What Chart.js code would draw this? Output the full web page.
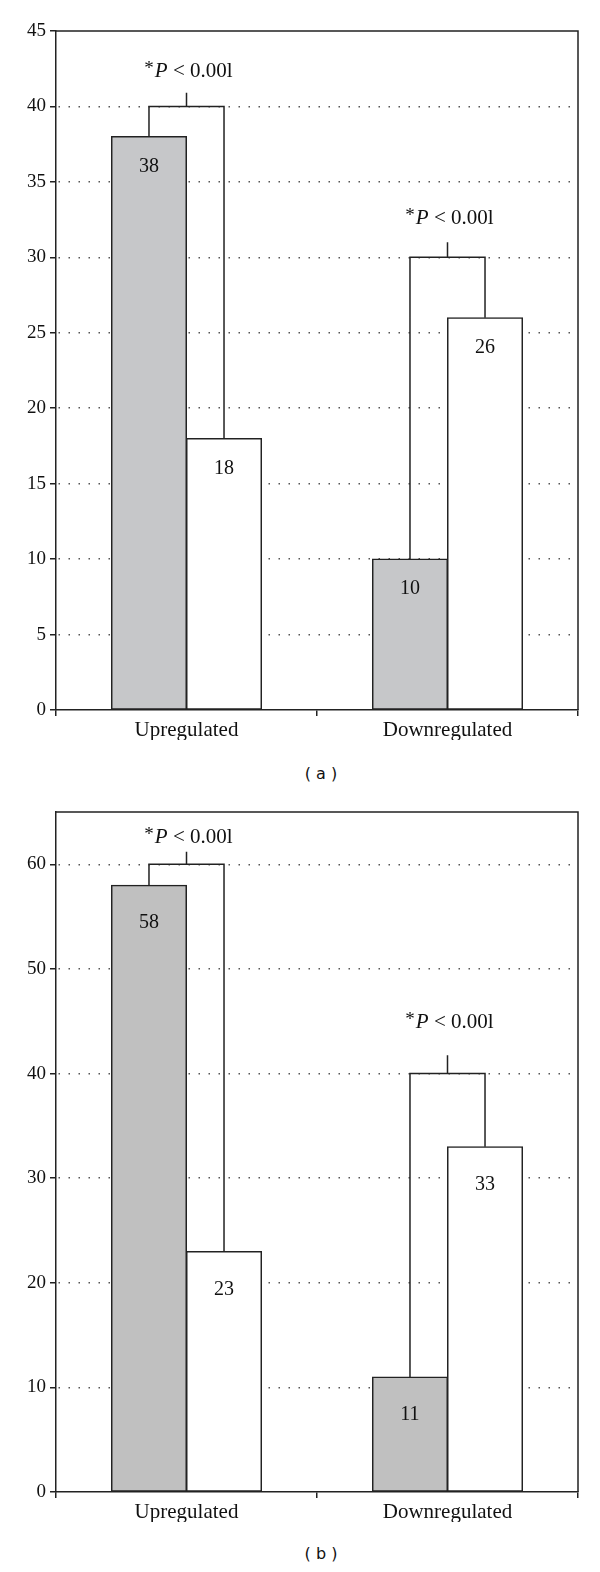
<!DOCTYPE html>
<html><head><meta charset="utf-8">
<script src="https://cdn.jsdelivr.net/npm/chart.js@4/dist/chart.umd.min.js"></script>
<style>
html,body{margin:0;padding:0;background:#fff;width:600px;height:1572px;overflow:hidden;position:relative;}
.wrap{position:absolute;left:0;width:600px;}
.cap{position:absolute;left:0;width:642px;text-align:center;font-family:"DejaVu Sans",sans-serif;font-size:16px;color:#111;line-height:20px;}
</style></head><body>
<div class="wrap" style="top:0;height:745px"><canvas id="ca"></canvas></div>
<div class="cap" style="top:764px">( a )</div>
<div class="wrap" style="top:770px;height:760px"><canvas id="cb"></canvas></div>
<div class="cap" style="top:1544px">( b )</div>
<script>
// ---- data ----
const categories = ['Upregulated', 'Downregulated'];
const grayA = [38, 10];
const whiteA = [18, 26];
const grayB = [58, 11];
const whiteB = [23, 33];
const yMaxA = 45, yStepA = 5;
const yMaxB = 65, yStepB = 10;
// significance brackets (value units)
const bracketA = [40, 30];
const bracketTickA = [40.9, 31.0];
const pLabelA = [41.95, 32.2];
const bracketB = [60, 40];
const bracketTickB = [61.2, 41.75];
const pLabelB = [62.0, 44.4];
const pStar = '*', pItalic = 'P', pRest = ' < 0.00l';

const SERIF = '"Liberation Serif", "DejaVu Serif", serif';
const INK = '#222';

function annotPlugin(bracket, tickTop, pLevel, labelDepth) {
  return {
    id: 'annot',
    afterDatasetsDraw(chart) {
      const ctx = chart.ctx, ca = chart.chartArea, y = chart.scales.y;
      const m0 = chart.getDatasetMeta(0).data, m1 = chart.getDatasetMeta(1).data;
      ctx.save();
      // frame top & right
      ctx.strokeStyle = INK; ctx.lineWidth = 1.5; ctx.setLineDash([]);
      ctx.beginPath();
      ctx.moveTo(ca.left, ca.top); ctx.lineTo(ca.right, ca.top); ctx.lineTo(ca.right, ca.bottom);
      ctx.stroke();
      // value labels
      ctx.fillStyle = '#111';
      ctx.font = '20px ' + SERIF;
      ctx.textAlign = 'center'; ctx.textBaseline = 'middle';
      [0, 1].forEach(d => {
        const meta = chart.getDatasetMeta(d);
        meta.data.forEach((bar, i) => {
          ctx.fillText(String(chart.data.datasets[d].data[i]), bar.x, bar.y + labelDepth);
        });
      });
      // brackets
      for (let i = 0; i < m0.length; i++) {
        const x0 = m0[i].x, x1 = m1[i].x, xm = (x0 + x1) / 2;
        const yb = y.getPixelForValue(bracket[i]);
        ctx.beginPath();
        ctx.moveTo(x0, m0[i].y); ctx.lineTo(x0, yb); ctx.lineTo(x1, yb); ctx.lineTo(x1, m1[i].y);
        ctx.moveTo(xm, yb); ctx.lineTo(xm, y.getPixelForValue(tickTop[i]));
        ctx.stroke();
        // p label
        const fN = '21px ' + SERIF, fI = 'italic 21px ' + SERIF, fS = '19px ' + SERIF;
        ctx.font = fS; const wS = ctx.measureText(pStar).width;
        ctx.font = fI; const wI = ctx.measureText(pItalic).width;
        ctx.font = fN; const wR = ctx.measureText(pRest).width;
        const tot = wS + 1 + wI + wR;
        let x = xm - tot / 2 + 2;
        const yl = y.getPixelForValue(pLevel[i]);
        ctx.textAlign = 'left'; ctx.textBaseline = 'alphabetic';
        ctx.font = fS; ctx.fillText(pStar, x, yl - 3); x += wS + 1;
        ctx.font = fI; ctx.fillText(pItalic, x, yl); x += wI;
        ctx.font = fN; ctx.fillText(pRest, x, yl);
      }
      ctx.restore();
    }
  };
}

function makeChart(id, gray, white, yMax, yStep, padTop, padBottom, grayColor, bracket, tickTop, pLevel, labelDepth) {
  return new Chart(document.getElementById(id), {
    type: 'bar',
    data: {
      labels: categories,
      datasets: [
        { data: gray, backgroundColor: grayColor, borderColor: INK, borderWidth: 1.5, borderSkipped: false },
        { data: white, backgroundColor: '#ffffff', borderColor: INK, borderWidth: 1.5, borderSkipped: false }
      ]
    },
    options: {
      responsive: true, maintainAspectRatio: false, animation: false,
      layout: { padding: { top: padTop, bottom: padBottom, left: 0, right: 22 } },
      plugins: { legend: { display: false }, tooltip: { enabled: false }, title: { display: false } },
      datasets: { bar: { categoryPercentage: 0.575, barPercentage: 1.0, inflateAmount: 0.5 } },
      scales: {
        x: {
          offset: true,
          afterFit: s => { s.height = 30; },
          border: { display: true, color: INK, width: 1.5 },
          grid: { display: true, offset: true, drawOnChartArea: false, drawTicks: true, tickLength: 6,
                  color: INK, lineWidth: 1.5, tickBorderDash: [] },
          ticks: { color: '#111', padding: 2, font: { family: SERIF, size: 21 } }
        },
        y: {
          min: 0, max: yMax,
          afterFit: s => { s.width = 56; },
          afterBuildTicks: s => { s.ticks = s.ticks.filter(t => t.value % yStep === 0); },
          border: { display: true, color: INK, width: 1.5, dash: [1.5, 8.5], dashOffset: 8 },
          grid: {
            color: c => (c.tick && (c.tick.value === 0 || c.tick.value === yMax)) ? 'rgba(0,0,0,0)' : '#555',
            lineWidth: 1.5, drawTicks: true, tickLength: 6, tickColor: INK, tickWidth: 1.5, tickBorderDash: []
          },
          ticks: { stepSize: yStep, color: '#111', padding: 4, font: { family: SERIF, size: 19 } }
        }
      }
    },
    plugins: [annotPlugin(bracket, tickTop, pLevel, labelDepth)]
  });
}

makeChart('ca', grayA, whiteA, yMaxA, yStepA, 31, 5, '#c6c7c9', bracketA, bracketTickA, pLabelA, 30);
makeChart('cb', grayB, whiteB, yMaxB, yStepB, 42, 8, '#c0c0c0', bracketB, bracketTickB, pLabelB, 38);
</script>
</body></html>
